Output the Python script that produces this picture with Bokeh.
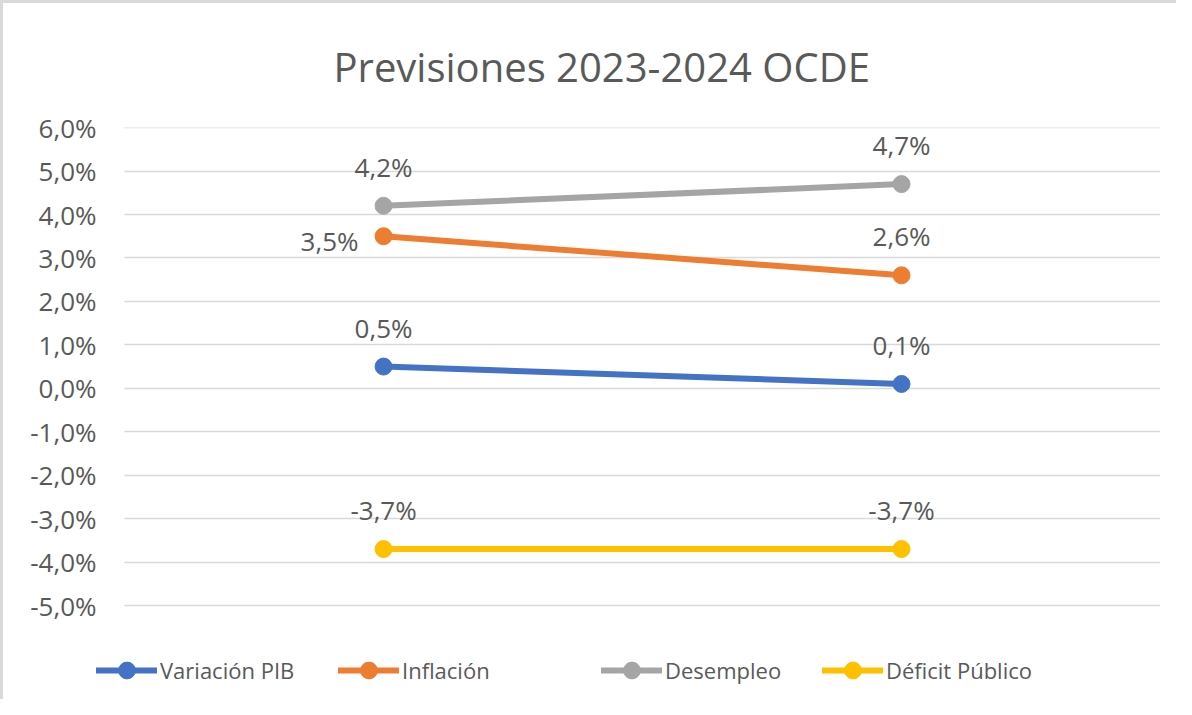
from bokeh.plotting import figure
from bokeh.models import (ColumnDataSource, Range1d, FixedTicker,
                          Legend, LegendItem)
from bokeh.core.properties import value
from bokeh.embed import file_html
from bokeh.resources import INLINE

# ---------------- data ----------------
years = ["2023", "2024"]
series_names = ["Variación PIB", "Inflación", "Desempleo", "Déficit Público"]
variacion_pib = [0.5, 0.1]
inflacion = [3.5, 2.6]
desempleo = [4.2, 4.7]
deficit_publico = [-3.7, -3.7]
series_values = [variacion_pib, inflacion, desempleo, deficit_publico]
y_ticks = [-5, -4, -3, -2, -1, 0, 1, 2, 3, 4, 5, 6]
y_tick_labels = ["-5,0%", "-4,0%", "-3,0%", "-2,0%", "-1,0%", "0,0%",
                 "1,0%", "2,0%", "3,0%", "4,0%", "5,0%", "6,0%"]
title_text = "Previsiones 2023-2024 OCDE"

# ---------------- style ----------------
colors = ["#4472C4", "#ED7D31", "#A5A5A5", "#FFC000"]
FONT = "Open Sans"
TXT = "#595959"

# category slots: each year occupies one unit, point at slot centre
x_pos = [i + 0.5 for i in range(len(years))]

p = figure(width=1176, height=699, x_range=Range1d(-0.06, len(years)),
           y_range=Range1d(-7.14, 6.003), output_backend="svg",
           toolbar_location=None,
           min_border_left=90, min_border_right=19, min_border_top=124,
           min_border_bottom=4)
p.outline_line_color = None
p.background_fill_color = "white"
p.border_fill_color = "white"
p.styles = {"border-left": "3px solid #D9D9D9", "border-top": "3px solid #D9D9D9"}

p.title.text = title_text
p.title.text_font = FONT
p.title.text_font_size = "40px"
p.title.text_font_style = "normal"
p.title.text_color = TXT
p.title.align = "left"
p.title.offset = 240
p.title.standoff = 67

p.xaxis.visible = False
p.xgrid.visible = False
p.ygrid.grid_line_color = "#D9D9D9"
p.ygrid.grid_line_width = 1.5
p.ygrid.cross_bounds = (0, len(years))
p.yaxis.ticker = FixedTicker(ticks=y_ticks)
p.yaxis.major_label_overrides = {t: l for t, l in zip(y_ticks, y_tick_labels)}
p.yaxis.axis_line_color = None
p.yaxis.major_tick_line_color = None
p.yaxis.minor_tick_line_color = None
p.yaxis.major_label_text_font = FONT
p.yaxis.major_label_text_font_size = "26px"
p.yaxis.major_label_text_color = TXT
p.yaxis.major_label_standoff = -9

def fmt(v):
    return f"{v:.1f}".replace(".", ",") + "%"

# label placement per series/point (style)
label_offsets = {
    0: [(0, -39, "center"), (0, -39, "center")],
    1: [(-25, 5, "right"), (0, -39, "center")],
    2: [(0, -39, "center"), (0, -39, "center")],
    3: [(0, -39, "center"), (0, -39, "center")],
}

legend_x = [3, 245, 508, 729]
for i, (name, vals, col) in enumerate(zip(series_names, series_values, colors)):
    src = ColumnDataSource(dict(x=x_pos, y=vals, year=years,
                                lab=[fmt(v) for v in vals],
                                dx=[o[0] for o in label_offsets[i]],
                                dy=[o[1] for o in label_offsets[i]],
                                al=[o[2] for o in label_offsets[i]]))
    r_line = p.line("x", "y", source=src, line_color=col, line_width=6,
                    line_cap="round")
    r_pt = p.scatter("x", "y", source=src, size=17, fill_color=col,
                     line_color=col)
    p.text("x", "y", text="lab", source=src, x_offset="dx", y_offset="dy",
           text_align="al", text_baseline="middle", text_font=value(FONT),
           text_font_size="26px", text_color=TXT)
    leg = Legend(items=[LegendItem(label=name, renderers=[r_line, r_pt])],
                 location=(legend_x[i], 7), orientation="horizontal",
                 glyph_width=61, glyph_height=42, label_standoff=3,
                 padding=0, margin=0, border_line_color=None,
                 background_fill_alpha=0,
                 label_text_font=FONT, label_text_font_size="22px",
                 label_text_color=TXT)
    p.add_layout(leg, "center")

open("out.html", "w").write(file_html(p, INLINE))
